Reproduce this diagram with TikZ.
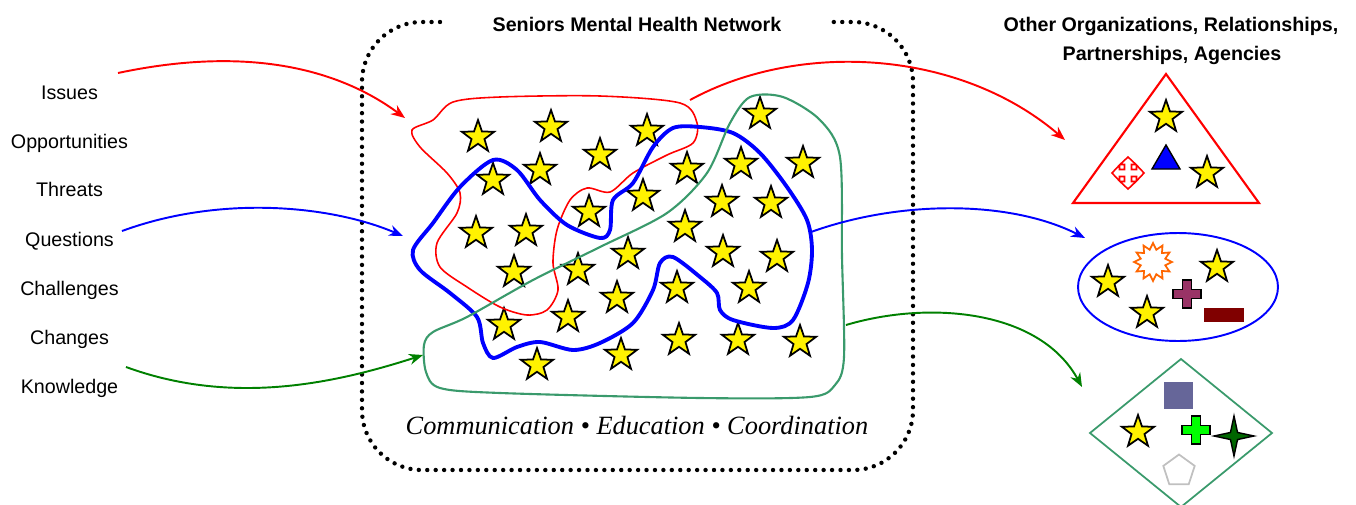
\documentclass[tikz,border=0pt]{standalone}
\usepackage{fontspec}
\setmainfont{Liberation Sans}
\newfontfamily\captionfont{Liberation Serif}
\usetikzlibrary{arrows.meta,shapes.geometric}

\definecolor{blobgreen}{HTML}{3A9A6C}
\definecolor{flowgreen}{HTML}{008000}
\definecolor{plum}{HTML}{993366}
\definecolor{maroon}{HTML}{800000}
\definecolor{slate}{HTML}{666699}
\definecolor{burst}{HTML}{FF6600}
\definecolor{pentgrey}{HTML}{C0C0C0}

\tikzset{
  ystar/.style={star, star points=5, star point ratio=2.5, draw=black, fill=yellow,
    line width=1pt, minimum size=0.68cm, inner sep=0pt},
  topic/.style={anchor=base, font=\fontsize{11.2}{13}\selectfont},
  heading/.style={anchor=base, font=\fontsize{11.2}{13}\selectfont\bfseries},
  flow/.style={-{Stealth[length=0.28cm,width=0.22cm]}, line width=1.1pt},
  plusfig/.pic={\path[pic actions] (-4.5,-14) -- (4.5,-14) -- (4.5,-4.5) -- (14,-4.5) -- (14,4.5)
    -- (4.5,4.5) -- (4.5,14) -- (-4.5,14) -- (-4.5,4.5) -- (-14,4.5) -- (-14,-4.5) -- (-4.5,-4.5) -- cycle;}
}

\begin{document}
\begin{tikzpicture}[x=0.02cm, y=-0.02cm]
  \useasboundingbox (0,0) rectangle (1356,504);

  % network frame
  \draw[line width=2.5pt, dash pattern=on 0pt off 4.8pt, line cap=round, rounded corners=1.2cm]
    (440,22) -| (362,470) -| (913,22) -- (830,22);
  \node[heading] (title) at (637,31) {Seniors Mental Health Network};
  \node[anchor=base, font=\fontsize{15}{18}\selectfont\captionfont\itshape] (motto) at (637,434)
    {Communication \textbullet{} Education \textbullet{} Coordination};

  % topics on the left
  \foreach \t/\y [count=\i] in {Issues/99, Opportunities/148, Threats/196, Questions/246,
      Challenges/295, Changes/344, Knowledge/393}
    \node[topic] (t\i) at (69.5,\y) {\t};

  % stars
  \foreach \x/\y [count=\i] in {478/137, 551/127, 647/131, 600/155, 540/170, 493/180, 687/169,
      760/114, 741/164, 803/163, 643/196, 589/212, 722/202, 771/203, 476/233, 526/231, 685/227,
      514/272, 578/270, 628/254, 723/252, 777/257, 677/288, 749/288, 617/298, 504/325, 568/317,
      537/365, 621/355, 679/340, 738/340, 800/342, 1166/117, 1207/173, 1108/282, 1147/313,
      1217/267, 1138/432}
    \node[ystar] (s\i) at (\x,\y) {};

  % groups
  \draw[red, line width=0.9pt] plot[smooth cycle] coordinates {(412,130) (433,120) (453,102)
    (500,97) (600,96) (680,103) (697,123) (693,143) (667,155) (633,173) (610,192) (587,188)
    (570,200) (557,230) (553,263) (558,290) (547,310) (527,315) (500,307) (467,287) (440,267)
    (437,243) (457,213) (460,193) (447,173) (420,147)};
  \draw[blue, line width=2.2pt] plot[smooth cycle] coordinates {(413,250) (433,223) (460,187)
    (493,160) (517,170) (540,200) (567,225) (600,238) (610,230) (613,200) (633,183) (653,147)
    (673,128) (700,127) (733,133) (760,153) (787,187) (807,220) (812,250) (808,283) (793,320)
    (773,328) (733,320) (720,310) (717,293) (700,277) (673,257) (660,263) (653,290) (633,323)
    (600,343) (573,350) (540,342) (517,347) (493,358) (483,343) (477,317) (450,293) (420,270)};
  \draw[blobgreen, line width=1.2pt] plot[smooth cycle] coordinates {(424,345) (433,332)
    (467,317) (533,280) (600,247) (667,213) (707,173) (730,123) (750,97) (783,97) (820,120)
    (840,157) (842,257) (844,357) (835,385) (810,397) (700,398) (500,393) (440,388) (426,372)};

  % flow ends
  \coordinate (rin0) at (118,73);   \coordinate (rin1) at (405,118);
  \coordinate (bin0) at (122,231);  \coordinate (bin1) at (403,236);
  \coordinate (gin0) at (126,367);  \coordinate (gin1) at (423,355);
  \coordinate (rout0) at (690,100); \coordinate (rout1) at (1065,140);
  \coordinate (bout0) at (811,232); \coordinate (bout1) at (1085,238);
  \coordinate (gout0) at (846,325); \coordinate (gout1) at (1082,387);

  \draw[flow, red] (rin0) .. controls (250,45) and (340,70) .. (rin1);
  \draw[flow, blue] (bin0) .. controls (220,195) and (330,205) .. (bin1);
  \draw[flow, flowgreen] (gin0) .. controls (230,405) and (330,385) .. (gin1);
  \draw[flow, red] (rout0) .. controls (800,40) and (960,50) .. (rout1);
  \draw[flow, blue] (bout0) .. controls (900,200) and (1010,200) .. (bout1);
  \draw[flow, flowgreen] (gout0) .. controls (930,300) and (1040,310) .. (gout1);

  % other organizations
  \node[heading] (other1) at (1171,31) {Other Organizations, Relationships,};
  \node[heading] (other2) at (1172,60) {Partnerships, Agencies};

  \draw[red, line width=1.2pt] (1073,203) -- (1166,74) -- (1259,203) -- cycle;
  \filldraw[fill=blue, draw=black, line width=0.8pt] (1152,169) -- (1180,169) -- (1166,145) -- cycle;
  \draw[red, fill=white, line width=0.9pt, shift={(1128,173)}]
    (3.5,-3.5) -- (3.5,-8.5) -- (8,-8.5) -- (0,-16) -- (-8,-8.5) -- (-3.5,-8.5) -- (-3.5,-3.5)
    -- (-8.5,-3.5) -- (-8.5,-8) -- (-16,0) -- (-8.5,8) -- (-8.5,3.5) -- (-3.5,3.5) -- (-3.5,8.5)
    -- (-8,8.5) -- (0,16) -- (8,8.5) -- (3.5,8.5) -- (3.5,3.5) -- (8.5,3.5) -- (8.5,8) -- (16,0)
    -- (8.5,-8) -- (8.5,-3.5) -- cycle;

  \draw[blue, line width=1.1pt] (1178,287) ellipse [x radius=2cm, y radius=1.08cm];
  \node[star, star points=12, star point ratio=1.5, draw=burst, fill=white, line width=1pt,
    minimum size=0.76cm, inner sep=0pt] (burst) at (1153,262) {};
  \pic[fill=plum, draw=black, line width=0.8pt] at (1187,294) {plusfig};
  \fill[maroon] (1204,308) rectangle (1244,322);

  \draw[blobgreen, line width=1pt] (1181,359) -- (1272,433) -- (1181,507) -- (1090,433) -- cycle;
  \fill[slate] (1164,382) rectangle (1193,409);
  \pic[fill=green, draw=black, line width=0.8pt] at (1196,430) {plusfig};
  \node[star, star points=4, star point ratio=4, draw=black, fill=green!40!black, line width=0.8pt,
    minimum size=0.8cm, inner sep=0pt] (spark) at (1234,436) {};
  \node[regular polygon, regular polygon sides=5, draw=pentgrey, line width=1pt,
    minimum size=0.66cm, inner sep=0pt] (pent) at (1179,471) {};
\end{tikzpicture}
\end{document}
